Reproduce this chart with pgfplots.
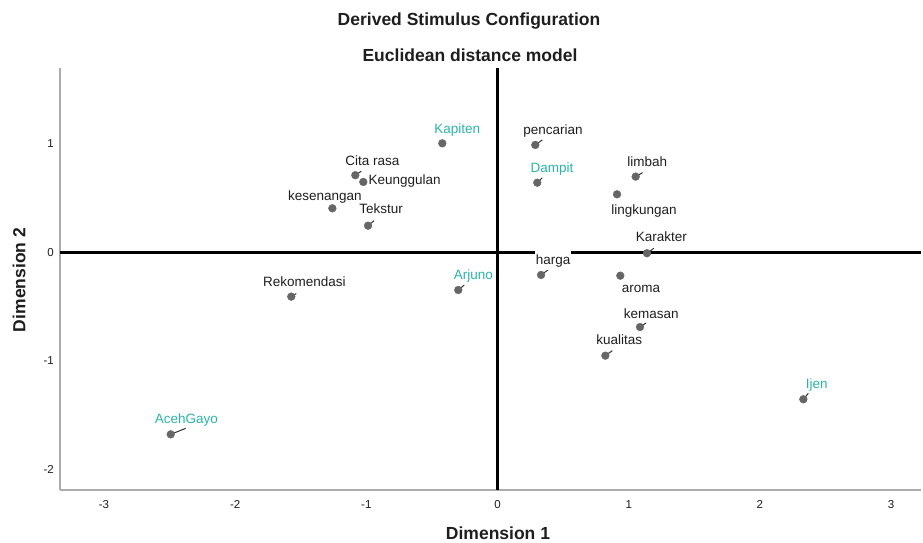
\documentclass[border=0pt]{standalone}
\usepackage{fontspec}
\setmainfont{Liberation Sans}
\usepackage{pgfplots}
\usepackage{pgfplotstable}
\pgfplotsset{compat=1.18}
\definecolor{tealc}{RGB}{42,181,167}
\definecolor{ptgray}{RGB}{102,102,102}
\definecolor{axgray}{RGB}{172,172,172}
\definecolor{txt}{RGB}{30,30,30}
\definecolor{lead}{RGB}{50,50,50}

\pgfplotstableread{
x y name
-0.421 1.006 Kapiten
0.288 0.991 pencarian
-1.084 0.712 Citarasa
-1.023 0.650 Keunggulan
0.303 0.643 Dampit
1.053 0.699 limbah
0.911 0.536 lingkungan
-1.259 0.407 kesenangan
-0.987 0.247 Tekstur
1.139 -0.007 Karakter
0.332 -0.207 harga
0.936 -0.214 aroma
-0.299 -0.346 Arjuno
-1.572 -0.407 Rekomendasi
1.086 -0.687 kemasan
0.822 -0.951 kualitas
2.331 -1.353 Ijen
-2.491 -1.676 AcehGayo
}\stimuli

\newcommand{\lab}[6]{\node[font=\fontsize{13.5}{16}\selectfont, text=#6, inner sep=0pt, text height=9.7pt, text depth=2.8pt, xshift=#3pt, yshift=#4pt] at (axis cs:#1,#2) {#5};}
\newcommand{\lead}[4]{\draw[lead, line width=1pt] (axis cs:#1,#2) -- ++(#3pt,#4pt);}

\begin{document}
\begin{tikzpicture}
\useasboundingbox (-60pt,-53pt) rectangle (863pt,490pt);
\begin{axis}[
  at={(0pt,0pt)}, anchor=south west,
  scale only axis, width=861pt, height=422pt,
  xmin=-3.335, xmax=3.228, ymin=-2.189, ymax=1.700,
  axis lines*=left,
  axis line style={draw=axgray, line width=1.6pt, -},
  every outer x axis line/.append style={-},
  every outer y axis line/.append style={-},
  xtick={-3,-2,-1,0,1,2,3}, ytick={-2,-1,0,1},
  major tick length=0pt,
  /pgf/number format/assume math mode=true,
  ticklabel style={font=\fontsize{11.5}{13}\selectfont, text=txt},
  xticklabel style={anchor=center, inner sep=0pt, text height=8.2pt, text depth=0pt, yshift=-14pt},
  yticklabel style={anchor=east, inner sep=0pt, xshift=-6pt},
  clip=false,
]
\addplot[black, line width=3pt] coordinates {(-3.335,0) (3.228,0)};
\addplot[black, line width=3pt] coordinates {(0,-2.189) (0,1.700)};

\lead{-1.084}{0.712}{6}{4}
\lead{0.288}{0.991}{7}{5}
\lead{0.303}{0.643}{5}{5}
\lead{-0.987}{0.247}{6}{5}
\lead{0.332}{-0.207}{7}{5}
\lead{-0.299}{-0.346}{6}{5}
\lead{1.053}{0.699}{7}{4}
\lead{1.139}{-0.007}{7}{5}
\lead{1.086}{-0.687}{6}{4}
\lead{0.822}{-0.951}{7}{5}
\lead{2.331}{-1.353}{5}{6}
\lead{-2.491}{-1.676}{15}{6}
\lead{-1.572}{-0.407}{5}{3}

\addplot[only marks, mark=*, mark size=3.9pt, draw=ptgray, fill=ptgray] table[x=x, y=y] {\stimuli};

\lab{-0.421}{1.006}{15}{13}{Kapiten}{tealc}
\lab{0.288}{0.991}{17.7}{14.3}{pencarian}{txt}
\lab{-1.084}{0.712}{17}{13.6}{Cita rasa}{txt}
\node[font=\fontsize{13.5}{16}\selectfont, text=txt, inner sep=0pt, anchor=west, text height=9.7pt, text depth=2.8pt, xshift=5pt, yshift=1pt] at (axis cs:-1.023,0.650) {Keunggulan};
\lab{-1.259}{0.407}{-7.5}{11}{kesenangan}{txt}
\lab{-0.987}{0.247}{13}{15.7}{Tekstur}{txt}
\lab{-1.572}{-0.407}{13}{13.4}{Rekomendasi}{txt}
\lab{-0.299}{-0.346}{15}{14.3}{Arjuno}{tealc}
\lab{0.303}{0.643}{14.7}{13.4}{Dampit}{tealc}
\node[font=\fontsize{13.5}{16}\selectfont, text=txt, fill=white, inner xsep=1pt, inner ysep=3pt, text height=9.7pt, text depth=2.8pt, xshift=12pt, yshift=14.3pt] at (axis cs:0.332,-0.207) {harga};
\lab{1.053}{0.699}{11.5}{13.4}{limbah}{txt}
\lab{0.911}{0.536}{27}{-16.4}{lingkungan}{txt}
\lab{1.139}{-0.007}{14.5}{15.6}{Karakter}{txt}
\lab{0.936}{-0.214}{20.7}{-13.6}{aroma}{txt}
\lab{1.086}{-0.687}{11.3}{12}{kemasan}{txt}
\lab{0.822}{-0.951}{13.9}{14.7}{kualitas}{txt}
\lab{2.331}{-1.353}{13.5}{14.3}{Ijen}{tealc}
\lab{-2.491}{-1.676}{15.6}{14.3}{AcehGayo}{tealc}
\end{axis}
\node[font=\fontsize{17.5}{20}\selectfont\bfseries, text=txt] at (409pt,469pt) {Derived Stimulus Configuration};
\node[font=\fontsize{17.5}{20}\selectfont\bfseries, text=txt] at (410pt,435pt) {Euclidean distance model};
\node[font=\fontsize{17.5}{20}\selectfont\bfseries, text=txt] at (438pt,-43pt) {Dimension 1};
\node[font=\fontsize{17.5}{20}\selectfont\bfseries, text=txt, rotate=90] at (-41pt,210pt) {Dimension 2};
\end{tikzpicture}
\end{document}
